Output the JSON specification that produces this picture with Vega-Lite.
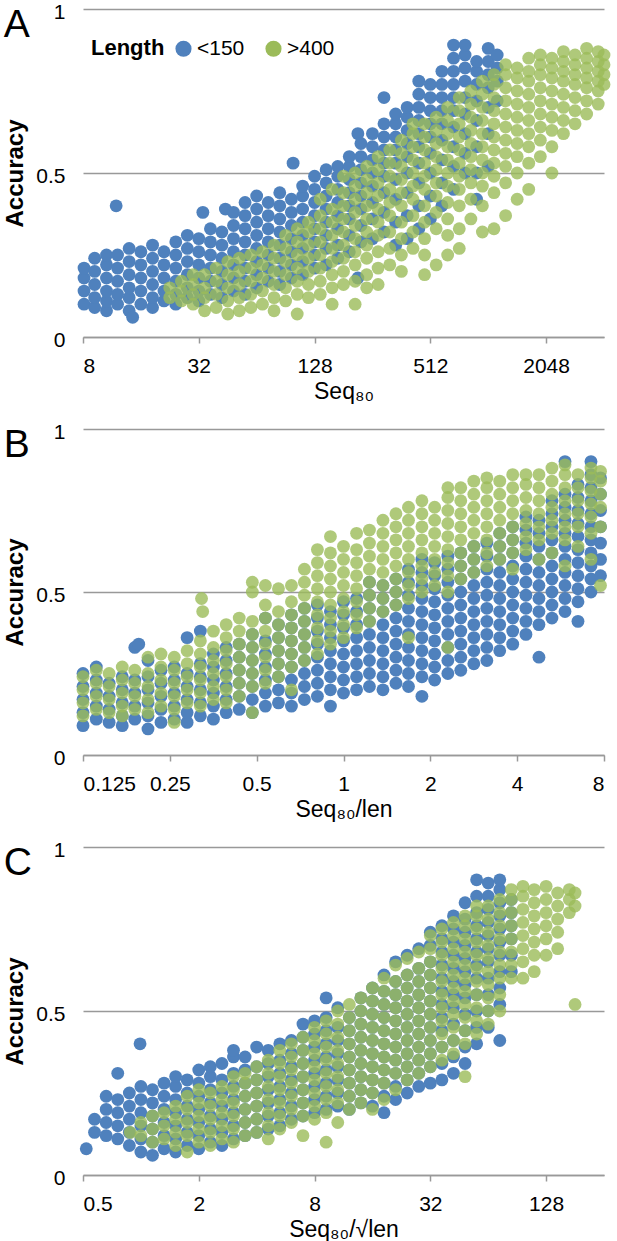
{
"$schema":"https://vega.github.io/schema/vega-lite/v6.json",
"padding":{"left":3,"top":1,"right":0,"bottom":0},
"background":"white",
"bounds":"flush",
"spacing":92,
"config":{
"font":"Liberation Sans",
"view":{"stroke":null},
"axis":{"labelFont":"Liberation Sans","labelFontSize":21,"labelColor":"#000","titleFont":"Liberation Sans","titleColor":"#000"},
"axisX":{"grid":false,"domainColor":"#999","domainWidth":1.5,"tickColor":"#999","tickWidth":1.5,"tickSize":6,"labelPadding":12,"titleFontSize":23,"titleFontWeight":"normal","titlePadding":4},
"axisY":{"domain":false,"ticks":false,"grid":true,"gridColor":"#999","gridWidth":1.5,"labelPadding":18,"labelOffset":3,"titleFontSize":24,"titleFontWeight":"bold","titlePadding":8,"zindex":1},
"title":{"anchor":"start","frame":"bounds","fontSize":39,"fontWeight":"normal","font":"Liberation Sans","color":"#000","offset":-39,"dy":5},
"legend":{"orient":"none","direction":"horizontal","titleOrient":"left","titleFontSize":22,"titleFontWeight":"bold","titleFont":"Liberation Sans","titleColor":"#000","labelFontSize":21,"labelFont":"Liberation Sans","labelColor":"#000","symbolType":"circle","symbolSize":260,"symbolStrokeWidth":0,"columnPadding":18,"titlePadding":8,"labelOffset":3,"padding":0}
},
"resolve":{"legend":{"color":"independent"}},
"datasets":{
"a1":[{"x":8.1,"y":0.10},{"x":8.1,"y":0.14},{"x":8.1,"y":0.18},{"x":8.1,"y":0.21},
{"x":9.2,"y":0.09},{"x":9.2,"y":0.12},{"x":9.2,"y":0.16},{"x":9.2,"y":0.20},{"x":9.2,"y":0.24},
{"x":10.6,"y":0.08},{"x":10.6,"y":0.11},{"x":10.6,"y":0.14},{"x":10.6,"y":0.18},{"x":10.6,"y":0.22},{"x":10.6,"y":0.25},
{"x":11.9,"y":0.40},
{"x":12.1,"y":0.10},{"x":12.1,"y":0.13},{"x":12.1,"y":0.17},{"x":12.1,"y":0.21},{"x":12.1,"y":0.25},
{"x":13.9,"y":0.08},{"x":13.9,"y":0.12},{"x":13.9,"y":0.15},{"x":13.9,"y":0.19},{"x":13.9,"y":0.23},{"x":13.9,"y":0.27},
{"x":14.5,"y":0.06},
{"x":16,"y":0.10},{"x":16,"y":0.14},{"x":16,"y":0.18},{"x":16,"y":0.22},{"x":16,"y":0.26},
{"x":18.4,"y":0.09},{"x":18.4,"y":0.12},{"x":18.4,"y":0.16},{"x":18.4,"y":0.20},{"x":18.4,"y":0.24},{"x":18.4,"y":0.28},
{"x":21.1,"y":0.11},{"x":21.1,"y":0.14},{"x":21.1,"y":0.18},{"x":21.1,"y":0.22},{"x":21.1,"y":0.26},
{"x":24.3,"y":0.10},{"x":24.3,"y":0.13},{"x":24.3,"y":0.17},{"x":24.3,"y":0.21},{"x":24.3,"y":0.25},{"x":24.3,"y":0.29},
{"x":27.9,"y":0.12},{"x":27.9,"y":0.15},{"x":27.9,"y":0.19},{"x":27.9,"y":0.23},{"x":27.9,"y":0.27},{"x":27.9,"y":0.31},
{"x":32,"y":0.11},{"x":32,"y":0.14},{"x":32,"y":0.18},{"x":32,"y":0.22},{"x":32,"y":0.26},{"x":32,"y":0.30},
{"x":33.6,"y":0.38},
{"x":36.8,"y":0.13},{"x":36.8,"y":0.17},{"x":36.8,"y":0.21},{"x":36.8,"y":0.25},{"x":36.8,"y":0.29},{"x":36.8,"y":0.33},
{"x":42.2,"y":0.12},{"x":42.2,"y":0.16},{"x":42.2,"y":0.20},{"x":42.2,"y":0.24},{"x":42.2,"y":0.28},{"x":42.2,"y":0.32},
{"x":44,"y":0.39},
{"x":48.5,"y":0.14},{"x":48.5,"y":0.18},{"x":48.5,"y":0.22},{"x":48.5,"y":0.26},{"x":48.5,"y":0.30},{"x":48.5,"y":0.34},{"x":48.5,"y":0.38},
{"x":55.7,"y":0.13},{"x":55.7,"y":0.17},{"x":55.7,"y":0.21},{"x":55.7,"y":0.25},{"x":55.7,"y":0.29},{"x":55.7,"y":0.33},{"x":55.7,"y":0.37},{"x":55.7,"y":0.41},
{"x":64,"y":0.15},{"x":64,"y":0.19},{"x":64,"y":0.23},{"x":64,"y":0.27},{"x":64,"y":0.31},{"x":64,"y":0.35},{"x":64,"y":0.39},{"x":64,"y":0.43},
{"x":73.5,"y":0.17},{"x":73.5,"y":0.21},{"x":73.5,"y":0.25},{"x":73.5,"y":0.29},{"x":73.5,"y":0.33},{"x":73.5,"y":0.37},{"x":73.5,"y":0.41},
{"x":84.4,"y":0.16},{"x":84.4,"y":0.20},{"x":84.4,"y":0.24},{"x":84.4,"y":0.28},{"x":84.4,"y":0.32},{"x":84.4,"y":0.36},{"x":84.4,"y":0.40},{"x":84.4,"y":0.44},
{"x":97,"y":0.18},{"x":97,"y":0.22},{"x":97,"y":0.26},{"x":97,"y":0.30},{"x":97,"y":0.34},{"x":97,"y":0.38},{"x":97,"y":0.42},
{"x":99,"y":0.53},
{"x":111,"y":0.19},{"x":111,"y":0.23},{"x":111,"y":0.27},{"x":111,"y":0.31},{"x":111,"y":0.35},{"x":111,"y":0.39},{"x":111,"y":0.43},{"x":111,"y":0.46},
{"x":128,"y":0.21},{"x":128,"y":0.25},{"x":128,"y":0.29},{"x":128,"y":0.33},{"x":128,"y":0.37},{"x":128,"y":0.41},{"x":128,"y":0.45},{"x":128,"y":0.49},
{"x":147,"y":0.22},{"x":147,"y":0.27},{"x":147,"y":0.31},{"x":147,"y":0.35},{"x":147,"y":0.39},{"x":147,"y":0.43},{"x":147,"y":0.47},{"x":147,"y":0.51},
{"x":169,"y":0.24},{"x":169,"y":0.28},{"x":169,"y":0.33},{"x":169,"y":0.37},{"x":169,"y":0.41},{"x":169,"y":0.45},{"x":169,"y":0.49},{"x":169,"y":0.52},
{"x":194,"y":0.26},{"x":194,"y":0.31},{"x":194,"y":0.36},{"x":194,"y":0.40},{"x":194,"y":0.44},{"x":194,"y":0.48},{"x":194,"y":0.52},{"x":194,"y":0.55},
{"x":215,"y":0.18},{"x":215,"y":0.62},
{"x":223,"y":0.29},{"x":223,"y":0.34},{"x":223,"y":0.39},{"x":223,"y":0.43},{"x":223,"y":0.47},{"x":223,"y":0.51},{"x":223,"y":0.55},{"x":223,"y":0.59},
{"x":256,"y":0.30},{"x":256,"y":0.36},{"x":256,"y":0.41},{"x":256,"y":0.46},{"x":256,"y":0.50},{"x":256,"y":0.54},{"x":256,"y":0.58},{"x":256,"y":0.62},
{"x":294,"y":0.32},{"x":294,"y":0.38},{"x":294,"y":0.44},{"x":294,"y":0.49},{"x":294,"y":0.53},{"x":294,"y":0.57},{"x":294,"y":0.61},{"x":294,"y":0.65},{"x":294,"y":0.73},
{"x":338,"y":0.28},{"x":338,"y":0.35},{"x":338,"y":0.42},{"x":338,"y":0.48},{"x":338,"y":0.53},{"x":338,"y":0.57},{"x":338,"y":0.61},{"x":338,"y":0.65},{"x":338,"y":0.68},
{"x":388,"y":0.30},{"x":388,"y":0.37},{"x":388,"y":0.44},{"x":388,"y":0.50},{"x":388,"y":0.55},{"x":388,"y":0.59},{"x":388,"y":0.63},{"x":388,"y":0.67},{"x":388,"y":0.70},
{"x":446,"y":0.33},{"x":446,"y":0.40},{"x":446,"y":0.47},{"x":446,"y":0.53},{"x":446,"y":0.58},{"x":446,"y":0.62},{"x":446,"y":0.66},{"x":446,"y":0.70},{"x":446,"y":0.74},{"x":446,"y":0.78},
{"x":512,"y":0.36},{"x":512,"y":0.43},{"x":512,"y":0.50},{"x":512,"y":0.56},{"x":512,"y":0.61},{"x":512,"y":0.65},{"x":512,"y":0.69},{"x":512,"y":0.73},{"x":512,"y":0.77},
{"x":588,"y":0.40},{"x":588,"y":0.47},{"x":588,"y":0.54},{"x":588,"y":0.60},{"x":588,"y":0.65},{"x":588,"y":0.69},{"x":588,"y":0.73},{"x":588,"y":0.77},{"x":588,"y":0.81},
{"x":676,"y":0.45},{"x":676,"y":0.52},{"x":676,"y":0.58},{"x":676,"y":0.64},{"x":676,"y":0.69},{"x":676,"y":0.73},{"x":676,"y":0.77},{"x":676,"y":0.81},{"x":676,"y":0.85},{"x":676,"y":0.89},
{"x":776,"y":0.50},{"x":776,"y":0.56},{"x":776,"y":0.62},{"x":776,"y":0.68},{"x":776,"y":0.73},{"x":776,"y":0.78},{"x":776,"y":0.82},{"x":776,"y":0.86},{"x":776,"y":0.89},
{"x":891,"y":0.42},{"x":891,"y":0.50},{"x":891,"y":0.58},{"x":891,"y":0.66},{"x":891,"y":0.72},{"x":891,"y":0.77},{"x":891,"y":0.81},{"x":891,"y":0.84},
{"x":1024,"y":0.52},{"x":1024,"y":0.62},{"x":1024,"y":0.70},{"x":1024,"y":0.76},{"x":1024,"y":0.80},{"x":1024,"y":0.84},{"x":1024,"y":0.88},
{"x":1140,"y":0.72},{"x":1140,"y":0.78},{"x":1140,"y":0.82},{"x":1140,"y":0.86}],
"a2":[{"x":22.6,"y":0.12},{"x":22.6,"y":0.15},
{"x":26,"y":0.11},{"x":26,"y":0.14},{"x":26,"y":0.17},
{"x":29.9,"y":0.10},{"x":29.9,"y":0.13},{"x":29.9,"y":0.16},{"x":29.9,"y":0.19},
{"x":34.3,"y":0.08},{"x":34.3,"y":0.12},{"x":34.3,"y":0.15},{"x":34.3,"y":0.19},
{"x":39.4,"y":0.09},{"x":39.4,"y":0.13},{"x":39.4,"y":0.17},{"x":39.4,"y":0.21},
{"x":45.3,"y":0.07},{"x":45.3,"y":0.11},{"x":45.3,"y":0.15},{"x":45.3,"y":0.19},{"x":45.3,"y":0.23},
{"x":52,"y":0.08},{"x":52,"y":0.12},{"x":52,"y":0.16},{"x":52,"y":0.20},{"x":52,"y":0.24},
{"x":59.7,"y":0.09},{"x":59.7,"y":0.13},{"x":59.7,"y":0.17},{"x":59.7,"y":0.21},{"x":59.7,"y":0.25},
{"x":68.6,"y":0.10},{"x":68.6,"y":0.14},{"x":68.6,"y":0.18},{"x":68.6,"y":0.22},{"x":68.6,"y":0.26},
{"x":78.8,"y":0.08},{"x":78.8,"y":0.12},{"x":78.8,"y":0.16},{"x":78.8,"y":0.20},{"x":78.8,"y":0.24},{"x":78.8,"y":0.28},
{"x":90.5,"y":0.11},{"x":90.5,"y":0.15},{"x":90.5,"y":0.19},{"x":90.5,"y":0.23},{"x":90.5,"y":0.27},{"x":90.5,"y":0.31},
{"x":104,"y":0.07},{"x":104,"y":0.13},{"x":104,"y":0.17},{"x":104,"y":0.21},{"x":104,"y":0.25},{"x":104,"y":0.29},{"x":104,"y":0.33},
{"x":119,"y":0.12},{"x":119,"y":0.16},{"x":119,"y":0.20},{"x":119,"y":0.24},{"x":119,"y":0.28},{"x":119,"y":0.32},{"x":119,"y":0.35},
{"x":137,"y":0.13},{"x":137,"y":0.17},{"x":137,"y":0.21},{"x":137,"y":0.25},{"x":137,"y":0.29},{"x":137,"y":0.33},{"x":137,"y":0.37},{"x":137,"y":0.42},
{"x":158,"y":0.10},{"x":158,"y":0.15},{"x":158,"y":0.19},{"x":158,"y":0.23},{"x":158,"y":0.27},{"x":158,"y":0.31},{"x":158,"y":0.35},{"x":158,"y":0.39},{"x":158,"y":0.45},
{"x":181,"y":0.16},{"x":181,"y":0.20},{"x":181,"y":0.24},{"x":181,"y":0.28},{"x":181,"y":0.32},{"x":181,"y":0.36},{"x":181,"y":0.40},{"x":181,"y":0.44},{"x":181,"y":0.49},
{"x":208,"y":0.10},{"x":208,"y":0.17},{"x":208,"y":0.22},{"x":208,"y":0.26},{"x":208,"y":0.30},{"x":208,"y":0.34},{"x":208,"y":0.38},{"x":208,"y":0.42},{"x":208,"y":0.46},{"x":208,"y":0.50},
{"x":239,"y":0.15},{"x":239,"y":0.19},{"x":239,"y":0.24},{"x":239,"y":0.28},{"x":239,"y":0.32},{"x":239,"y":0.36},{"x":239,"y":0.40},{"x":239,"y":0.44},{"x":239,"y":0.48},{"x":239,"y":0.52},
{"x":274,"y":0.16},{"x":274,"y":0.21},{"x":274,"y":0.26},{"x":274,"y":0.31},{"x":274,"y":0.35},{"x":274,"y":0.39},{"x":274,"y":0.43},{"x":274,"y":0.47},{"x":274,"y":0.51},{"x":274,"y":0.55},
{"x":315,"y":0.22},{"x":315,"y":0.27},{"x":315,"y":0.32},{"x":315,"y":0.37},{"x":315,"y":0.41},{"x":315,"y":0.45},{"x":315,"y":0.49},{"x":315,"y":0.53},{"x":315,"y":0.57},
{"x":362,"y":0.20},{"x":362,"y":0.25},{"x":362,"y":0.30},{"x":362,"y":0.35},{"x":362,"y":0.40},{"x":362,"y":0.44},{"x":362,"y":0.48},{"x":362,"y":0.52},{"x":362,"y":0.56},{"x":362,"y":0.60},
{"x":416,"y":0.27},{"x":416,"y":0.32},{"x":416,"y":0.37},{"x":416,"y":0.42},{"x":416,"y":0.46},{"x":416,"y":0.50},{"x":416,"y":0.54},{"x":416,"y":0.58},{"x":416,"y":0.62},{"x":416,"y":0.65},
{"x":478,"y":0.19},{"x":478,"y":0.25},{"x":478,"y":0.30},{"x":478,"y":0.35},{"x":478,"y":0.40},{"x":478,"y":0.45},{"x":478,"y":0.49},{"x":478,"y":0.53},{"x":478,"y":0.57},{"x":478,"y":0.61},{"x":478,"y":0.65},
{"x":549,"y":0.22},{"x":549,"y":0.33},{"x":549,"y":0.38},{"x":549,"y":0.43},{"x":549,"y":0.47},{"x":549,"y":0.51},{"x":549,"y":0.55},{"x":549,"y":0.59},{"x":549,"y":0.63},{"x":549,"y":0.67},
{"x":630,"y":0.25},{"x":630,"y":0.31},{"x":630,"y":0.36},{"x":630,"y":0.41},{"x":630,"y":0.46},{"x":630,"y":0.50},{"x":630,"y":0.54},{"x":630,"y":0.58},{"x":630,"y":0.62},{"x":630,"y":0.66},{"x":630,"y":0.70},
{"x":724,"y":0.27},{"x":724,"y":0.33},{"x":724,"y":0.40},{"x":724,"y":0.45},{"x":724,"y":0.49},{"x":724,"y":0.53},{"x":724,"y":0.57},{"x":724,"y":0.61},{"x":724,"y":0.65},{"x":724,"y":0.69},{"x":724,"y":0.73},
{"x":832,"y":0.36},{"x":832,"y":0.42},{"x":832,"y":0.47},{"x":832,"y":0.51},{"x":832,"y":0.55},{"x":832,"y":0.59},{"x":832,"y":0.63},{"x":832,"y":0.67},{"x":832,"y":0.71},{"x":832,"y":0.75},
{"x":955,"y":0.32},{"x":955,"y":0.40},{"x":955,"y":0.46},{"x":955,"y":0.50},{"x":955,"y":0.54},{"x":955,"y":0.58},{"x":955,"y":0.62},{"x":955,"y":0.66},{"x":955,"y":0.70},{"x":955,"y":0.74},{"x":955,"y":0.78},
{"x":1097,"y":0.33},{"x":1097,"y":0.44},{"x":1097,"y":0.49},{"x":1097,"y":0.53},{"x":1097,"y":0.57},{"x":1097,"y":0.61},{"x":1097,"y":0.65},{"x":1097,"y":0.69},{"x":1097,"y":0.73},{"x":1097,"y":0.77},{"x":1097,"y":0.80},
{"x":1261,"y":0.37},{"x":1261,"y":0.47},{"x":1261,"y":0.52},{"x":1261,"y":0.56},{"x":1261,"y":0.60},{"x":1261,"y":0.64},{"x":1261,"y":0.68},{"x":1261,"y":0.72},{"x":1261,"y":0.76},{"x":1261,"y":0.80},{"x":1261,"y":0.83},
{"x":1448,"y":0.42},{"x":1448,"y":0.50},{"x":1448,"y":0.55},{"x":1448,"y":0.59},{"x":1448,"y":0.63},{"x":1448,"y":0.67},{"x":1448,"y":0.71},{"x":1448,"y":0.75},{"x":1448,"y":0.79},{"x":1448,"y":0.82},
{"x":1663,"y":0.45},{"x":1663,"y":0.53},{"x":1663,"y":0.58},{"x":1663,"y":0.62},{"x":1663,"y":0.66},{"x":1663,"y":0.70},{"x":1663,"y":0.74},{"x":1663,"y":0.78},{"x":1663,"y":0.81},{"x":1663,"y":0.85},
{"x":1911,"y":0.55},{"x":1911,"y":0.60},{"x":1911,"y":0.64},{"x":1911,"y":0.68},{"x":1911,"y":0.72},{"x":1911,"y":0.76},{"x":1911,"y":0.80},{"x":1911,"y":0.83},{"x":1911,"y":0.86},
{"x":2195,"y":0.50},{"x":2195,"y":0.58},{"x":2195,"y":0.63},{"x":2195,"y":0.67},{"x":2195,"y":0.71},{"x":2195,"y":0.75},{"x":2195,"y":0.79},{"x":2195,"y":0.82},{"x":2195,"y":0.85},
{"x":2521,"y":0.62},{"x":2521,"y":0.66},{"x":2521,"y":0.70},{"x":2521,"y":0.74},{"x":2521,"y":0.78},{"x":2521,"y":0.81},{"x":2521,"y":0.84},{"x":2521,"y":0.87},
{"x":2896,"y":0.65},{"x":2896,"y":0.69},{"x":2896,"y":0.73},{"x":2896,"y":0.77},{"x":2896,"y":0.80},{"x":2896,"y":0.83},{"x":2896,"y":0.86},
{"x":3327,"y":0.68},{"x":3327,"y":0.72},{"x":3327,"y":0.76},{"x":3327,"y":0.79},{"x":3327,"y":0.82},{"x":3327,"y":0.85},{"x":3327,"y":0.88},
{"x":3822,"y":0.71},{"x":3822,"y":0.75},{"x":3822,"y":0.78},{"x":3822,"y":0.81},{"x":3822,"y":0.84},{"x":3822,"y":0.87},
{"x":4096,"y":0.77},{"x":4096,"y":0.80},{"x":4096,"y":0.83},{"x":4096,"y":0.86}],
"b1":[{"x":0.125,"y":0.09},{"x":0.125,"y":0.13},{"x":0.125,"y":0.17},{"x":0.125,"y":0.21},{"x":0.125,"y":0.25},
{"x":0.139,"y":0.11},{"x":0.139,"y":0.15},{"x":0.139,"y":0.19},{"x":0.139,"y":0.23},{"x":0.139,"y":0.27},
{"x":0.154,"y":0.10},{"x":0.154,"y":0.14},{"x":0.154,"y":0.18},{"x":0.154,"y":0.22},
{"x":0.171,"y":0.09},{"x":0.171,"y":0.12},{"x":0.171,"y":0.16},{"x":0.171,"y":0.20},{"x":0.171,"y":0.24},
{"x":0.189,"y":0.11},{"x":0.189,"y":0.15},{"x":0.189,"y":0.19},{"x":0.189,"y":0.23},{"x":0.189,"y":0.33},{"x":0.195,"y":0.34},
{"x":0.210,"y":0.08},{"x":0.210,"y":0.12},{"x":0.210,"y":0.16},{"x":0.210,"y":0.20},{"x":0.210,"y":0.24},{"x":0.210,"y":0.29},
{"x":0.233,"y":0.10},{"x":0.233,"y":0.14},{"x":0.233,"y":0.18},{"x":0.233,"y":0.22},{"x":0.233,"y":0.26},
{"x":0.259,"y":0.11},{"x":0.259,"y":0.15},{"x":0.259,"y":0.19},{"x":0.259,"y":0.23},{"x":0.259,"y":0.27},
{"x":0.287,"y":0.10},{"x":0.287,"y":0.13},{"x":0.287,"y":0.17},{"x":0.287,"y":0.21},{"x":0.287,"y":0.25},{"x":0.287,"y":0.36},
{"x":0.319,"y":0.12},{"x":0.319,"y":0.16},{"x":0.319,"y":0.20},{"x":0.319,"y":0.24},{"x":0.319,"y":0.28},{"x":0.319,"y":0.38},
{"x":0.354,"y":0.11},{"x":0.354,"y":0.15},{"x":0.354,"y":0.19},{"x":0.354,"y":0.23},{"x":0.354,"y":0.27},{"x":0.354,"y":0.31},
{"x":0.392,"y":0.13},{"x":0.392,"y":0.17},{"x":0.392,"y":0.21},{"x":0.392,"y":0.25},{"x":0.392,"y":0.29},{"x":0.392,"y":0.33},
{"x":0.435,"y":0.14},{"x":0.435,"y":0.18},{"x":0.435,"y":0.22},{"x":0.435,"y":0.26},{"x":0.435,"y":0.30},{"x":0.435,"y":0.34},
{"x":0.483,"y":0.13},{"x":0.483,"y":0.17},{"x":0.483,"y":0.21},{"x":0.483,"y":0.25},{"x":0.483,"y":0.29},{"x":0.483,"y":0.33},{"x":0.483,"y":0.37},
{"x":0.536,"y":0.15},{"x":0.536,"y":0.19},{"x":0.536,"y":0.23},{"x":0.536,"y":0.27},{"x":0.536,"y":0.31},{"x":0.536,"y":0.35},{"x":0.536,"y":0.42},
{"x":0.595,"y":0.16},{"x":0.595,"y":0.20},{"x":0.595,"y":0.24},{"x":0.595,"y":0.28},{"x":0.595,"y":0.32},{"x":0.595,"y":0.36},{"x":0.595,"y":0.40},
{"x":0.660,"y":0.15},{"x":0.660,"y":0.19},{"x":0.660,"y":0.23},{"x":0.660,"y":0.27},{"x":0.660,"y":0.31},{"x":0.660,"y":0.35},{"x":0.660,"y":0.39},{"x":0.660,"y":0.43},
{"x":0.732,"y":0.17},{"x":0.732,"y":0.21},{"x":0.732,"y":0.25},{"x":0.732,"y":0.29},{"x":0.732,"y":0.33},{"x":0.732,"y":0.37},{"x":0.732,"y":0.41},{"x":0.732,"y":0.45},
{"x":0.812,"y":0.18},{"x":0.812,"y":0.22},{"x":0.812,"y":0.26},{"x":0.812,"y":0.30},{"x":0.812,"y":0.34},{"x":0.812,"y":0.38},{"x":0.812,"y":0.42},{"x":0.812,"y":0.46},
{"x":0.901,"y":0.15},{"x":0.901,"y":0.20},{"x":0.901,"y":0.24},{"x":0.901,"y":0.28},{"x":0.901,"y":0.32},{"x":0.901,"y":0.36},{"x":0.901,"y":0.40},{"x":0.901,"y":0.44},
{"x":1.0,"y":0.19},{"x":1.0,"y":0.23},{"x":1.0,"y":0.27},{"x":1.0,"y":0.31},{"x":1.0,"y":0.35},{"x":1.0,"y":0.39},{"x":1.0,"y":0.43},{"x":1.0,"y":0.47},
{"x":1.11,"y":0.20},{"x":1.11,"y":0.24},{"x":1.11,"y":0.28},{"x":1.11,"y":0.32},{"x":1.11,"y":0.36},{"x":1.11,"y":0.40},{"x":1.11,"y":0.44},{"x":1.11,"y":0.48},
{"x":1.23,"y":0.21},{"x":1.23,"y":0.25},{"x":1.23,"y":0.29},{"x":1.23,"y":0.33},{"x":1.23,"y":0.37},{"x":1.23,"y":0.41},{"x":1.23,"y":0.45},{"x":1.23,"y":0.49},{"x":1.23,"y":0.53},
{"x":1.37,"y":0.20},{"x":1.37,"y":0.24},{"x":1.37,"y":0.28},{"x":1.37,"y":0.32},{"x":1.37,"y":0.36},{"x":1.37,"y":0.40},{"x":1.37,"y":0.44},{"x":1.37,"y":0.48},{"x":1.37,"y":0.52},
{"x":1.52,"y":0.22},{"x":1.52,"y":0.26},{"x":1.52,"y":0.30},{"x":1.52,"y":0.34},{"x":1.52,"y":0.38},{"x":1.52,"y":0.42},{"x":1.52,"y":0.46},{"x":1.52,"y":0.50},{"x":1.52,"y":0.54},
{"x":1.68,"y":0.21},{"x":1.68,"y":0.25},{"x":1.68,"y":0.29},{"x":1.68,"y":0.33},{"x":1.68,"y":0.37},{"x":1.68,"y":0.41},{"x":1.68,"y":0.45},{"x":1.68,"y":0.49},{"x":1.68,"y":0.53},{"x":1.68,"y":0.57},
{"x":1.87,"y":0.18},{"x":1.87,"y":0.24},{"x":1.87,"y":0.28},{"x":1.87,"y":0.32},{"x":1.87,"y":0.36},{"x":1.87,"y":0.40},{"x":1.87,"y":0.44},{"x":1.87,"y":0.48},{"x":1.87,"y":0.52},{"x":1.87,"y":0.56},{"x":1.87,"y":0.60},
{"x":2.07,"y":0.23},{"x":2.07,"y":0.27},{"x":2.07,"y":0.31},{"x":2.07,"y":0.35},{"x":2.07,"y":0.39},{"x":2.07,"y":0.43},{"x":2.07,"y":0.47},{"x":2.07,"y":0.51},{"x":2.07,"y":0.55},{"x":2.07,"y":0.59},
{"x":2.30,"y":0.25},{"x":2.30,"y":0.29},{"x":2.30,"y":0.33},{"x":2.30,"y":0.37},{"x":2.30,"y":0.41},{"x":2.30,"y":0.45},{"x":2.30,"y":0.49},{"x":2.30,"y":0.53},{"x":2.30,"y":0.57},{"x":2.30,"y":0.61},
{"x":2.55,"y":0.26},{"x":2.55,"y":0.30},{"x":2.55,"y":0.34},{"x":2.55,"y":0.38},{"x":2.55,"y":0.42},{"x":2.55,"y":0.46},{"x":2.55,"y":0.50},{"x":2.55,"y":0.54},{"x":2.55,"y":0.58},{"x":2.55,"y":0.62},
{"x":2.83,"y":0.28},{"x":2.83,"y":0.32},{"x":2.83,"y":0.36},{"x":2.83,"y":0.40},{"x":2.83,"y":0.44},{"x":2.83,"y":0.48},{"x":2.83,"y":0.52},{"x":2.83,"y":0.56},{"x":2.83,"y":0.60},{"x":2.83,"y":0.64},
{"x":3.14,"y":0.29},{"x":3.14,"y":0.33},{"x":3.14,"y":0.37},{"x":3.14,"y":0.41},{"x":3.14,"y":0.45},{"x":3.14,"y":0.49},{"x":3.14,"y":0.53},{"x":3.14,"y":0.57},{"x":3.14,"y":0.61},{"x":3.14,"y":0.65},
{"x":3.48,"y":0.32},{"x":3.48,"y":0.36},{"x":3.48,"y":0.40},{"x":3.48,"y":0.44},{"x":3.48,"y":0.48},{"x":3.48,"y":0.52},{"x":3.48,"y":0.56},{"x":3.48,"y":0.60},{"x":3.48,"y":0.64},{"x":3.48,"y":0.68},
{"x":3.86,"y":0.34},{"x":3.86,"y":0.38},{"x":3.86,"y":0.42},{"x":3.86,"y":0.46},{"x":3.86,"y":0.50},{"x":3.86,"y":0.54},{"x":3.86,"y":0.58},{"x":3.86,"y":0.62},{"x":3.86,"y":0.66},{"x":3.86,"y":0.70},
{"x":4.29,"y":0.37},{"x":4.29,"y":0.41},{"x":4.29,"y":0.45},{"x":4.29,"y":0.49},{"x":4.29,"y":0.53},{"x":4.29,"y":0.57},{"x":4.29,"y":0.61},{"x":4.29,"y":0.65},{"x":4.29,"y":0.69},{"x":4.29,"y":0.73},
{"x":4.76,"y":0.30},{"x":4.76,"y":0.40},{"x":4.76,"y":0.44},{"x":4.76,"y":0.48},{"x":4.76,"y":0.52},{"x":4.76,"y":0.56},{"x":4.76,"y":0.60},{"x":4.76,"y":0.64},{"x":4.76,"y":0.68},{"x":4.76,"y":0.72},
{"x":5.28,"y":0.42},{"x":5.28,"y":0.46},{"x":5.28,"y":0.50},{"x":5.28,"y":0.54},{"x":5.28,"y":0.58},{"x":5.28,"y":0.62},{"x":5.28,"y":0.66},{"x":5.28,"y":0.70},{"x":5.28,"y":0.74},{"x":5.28,"y":0.78},
{"x":5.86,"y":0.44},{"x":5.86,"y":0.48},{"x":5.86,"y":0.52},{"x":5.86,"y":0.56},{"x":5.86,"y":0.60},{"x":5.86,"y":0.64},{"x":5.86,"y":0.68},{"x":5.86,"y":0.72},{"x":5.86,"y":0.76},{"x":5.86,"y":0.80},{"x":5.86,"y":0.90},
{"x":6.50,"y":0.41},{"x":6.50,"y":0.47},{"x":6.50,"y":0.51},{"x":6.50,"y":0.55},{"x":6.50,"y":0.59},{"x":6.50,"y":0.63},{"x":6.50,"y":0.67},{"x":6.50,"y":0.71},{"x":6.50,"y":0.75},{"x":6.50,"y":0.79},{"x":6.50,"y":0.83},
{"x":7.21,"y":0.50},{"x":7.21,"y":0.54},{"x":7.21,"y":0.58},{"x":7.21,"y":0.62},{"x":7.21,"y":0.66},{"x":7.21,"y":0.70},{"x":7.21,"y":0.74},{"x":7.21,"y":0.78},{"x":7.21,"y":0.82},{"x":7.21,"y":0.86},{"x":7.21,"y":0.90},
{"x":7.78,"y":0.55},{"x":7.78,"y":0.60},{"x":7.78,"y":0.65},{"x":7.78,"y":0.70},{"x":7.78,"y":0.75},{"x":7.78,"y":0.80},{"x":7.78,"y":0.85}],
"b2":[{"x":0.125,"y":0.12},{"x":0.125,"y":0.16},{"x":0.125,"y":0.20},{"x":0.125,"y":0.24},
{"x":0.139,"y":0.14},{"x":0.139,"y":0.18},{"x":0.139,"y":0.22},{"x":0.139,"y":0.26},
{"x":0.154,"y":0.13},{"x":0.154,"y":0.17},{"x":0.154,"y":0.21},{"x":0.154,"y":0.25},
{"x":0.171,"y":0.12},{"x":0.171,"y":0.15},{"x":0.171,"y":0.19},{"x":0.171,"y":0.23},{"x":0.171,"y":0.27},
{"x":0.189,"y":0.14},{"x":0.189,"y":0.18},{"x":0.189,"y":0.22},{"x":0.189,"y":0.26},
{"x":0.210,"y":0.13},{"x":0.210,"y":0.17},{"x":0.210,"y":0.21},{"x":0.210,"y":0.25},{"x":0.210,"y":0.30},
{"x":0.233,"y":0.15},{"x":0.233,"y":0.19},{"x":0.233,"y":0.23},{"x":0.233,"y":0.27},{"x":0.233,"y":0.31},
{"x":0.259,"y":0.10},{"x":0.259,"y":0.14},{"x":0.259,"y":0.18},{"x":0.259,"y":0.22},{"x":0.259,"y":0.26},{"x":0.259,"y":0.30},
{"x":0.287,"y":0.16},{"x":0.287,"y":0.20},{"x":0.287,"y":0.24},{"x":0.287,"y":0.28},{"x":0.287,"y":0.32},
{"x":0.319,"y":0.15},{"x":0.319,"y":0.19},{"x":0.319,"y":0.23},{"x":0.319,"y":0.27},{"x":0.319,"y":0.31},{"x":0.319,"y":0.35},{"x":0.325,"y":0.44},{"x":0.322,"y":0.48},
{"x":0.354,"y":0.17},{"x":0.354,"y":0.21},{"x":0.354,"y":0.25},{"x":0.354,"y":0.29},{"x":0.354,"y":0.33},{"x":0.354,"y":0.38},
{"x":0.392,"y":0.16},{"x":0.392,"y":0.20},{"x":0.392,"y":0.24},{"x":0.392,"y":0.28},{"x":0.392,"y":0.32},{"x":0.392,"y":0.36},{"x":0.392,"y":0.40},
{"x":0.435,"y":0.18},{"x":0.435,"y":0.22},{"x":0.435,"y":0.26},{"x":0.435,"y":0.30},{"x":0.435,"y":0.34},{"x":0.435,"y":0.38},{"x":0.435,"y":0.42},
{"x":0.483,"y":0.13},{"x":0.483,"y":0.21},{"x":0.483,"y":0.25},{"x":0.483,"y":0.29},{"x":0.483,"y":0.33},{"x":0.483,"y":0.37},{"x":0.483,"y":0.41},{"x":0.483,"y":0.50},{"x":0.483,"y":0.53},
{"x":0.536,"y":0.22},{"x":0.536,"y":0.26},{"x":0.536,"y":0.30},{"x":0.536,"y":0.34},{"x":0.536,"y":0.38},{"x":0.536,"y":0.42},{"x":0.536,"y":0.46},{"x":0.536,"y":0.52},
{"x":0.595,"y":0.24},{"x":0.595,"y":0.28},{"x":0.595,"y":0.32},{"x":0.595,"y":0.36},{"x":0.595,"y":0.40},{"x":0.595,"y":0.44},{"x":0.595,"y":0.51},
{"x":0.660,"y":0.20},{"x":0.660,"y":0.27},{"x":0.660,"y":0.31},{"x":0.660,"y":0.35},{"x":0.660,"y":0.39},{"x":0.660,"y":0.43},{"x":0.660,"y":0.47},{"x":0.660,"y":0.52},
{"x":0.732,"y":0.29},{"x":0.732,"y":0.33},{"x":0.732,"y":0.37},{"x":0.732,"y":0.41},{"x":0.732,"y":0.45},{"x":0.732,"y":0.49},{"x":0.732,"y":0.53},{"x":0.732,"y":0.57},
{"x":0.812,"y":0.31},{"x":0.812,"y":0.35},{"x":0.812,"y":0.39},{"x":0.812,"y":0.43},{"x":0.812,"y":0.47},{"x":0.812,"y":0.51},{"x":0.812,"y":0.55},{"x":0.812,"y":0.59},{"x":0.812,"y":0.63},
{"x":0.901,"y":0.34},{"x":0.901,"y":0.38},{"x":0.901,"y":0.42},{"x":0.901,"y":0.46},{"x":0.901,"y":0.50},{"x":0.901,"y":0.54},{"x":0.901,"y":0.58},{"x":0.901,"y":0.62},{"x":0.901,"y":0.67},
{"x":1.0,"y":0.36},{"x":1.0,"y":0.40},{"x":1.0,"y":0.44},{"x":1.0,"y":0.48},{"x":1.0,"y":0.52},{"x":1.0,"y":0.56},{"x":1.0,"y":0.60},{"x":1.0,"y":0.64},
{"x":1.11,"y":0.39},{"x":1.11,"y":0.43},{"x":1.11,"y":0.47},{"x":1.11,"y":0.51},{"x":1.11,"y":0.55},{"x":1.11,"y":0.59},{"x":1.11,"y":0.63},{"x":1.11,"y":0.68},
{"x":1.23,"y":0.41},{"x":1.23,"y":0.45},{"x":1.23,"y":0.49},{"x":1.23,"y":0.53},{"x":1.23,"y":0.57},{"x":1.23,"y":0.61},{"x":1.23,"y":0.65},{"x":1.23,"y":0.69},
{"x":1.37,"y":0.44},{"x":1.37,"y":0.48},{"x":1.37,"y":0.52},{"x":1.37,"y":0.56},{"x":1.37,"y":0.60},{"x":1.37,"y":0.64},{"x":1.37,"y":0.68},{"x":1.37,"y":0.72},
{"x":1.52,"y":0.46},{"x":1.52,"y":0.50},{"x":1.52,"y":0.54},{"x":1.52,"y":0.58},{"x":1.52,"y":0.62},{"x":1.52,"y":0.66},{"x":1.52,"y":0.70},{"x":1.52,"y":0.74},
{"x":1.68,"y":0.36},{"x":1.68,"y":0.48},{"x":1.68,"y":0.52},{"x":1.68,"y":0.56},{"x":1.68,"y":0.60},{"x":1.68,"y":0.64},{"x":1.68,"y":0.68},{"x":1.68,"y":0.72},{"x":1.68,"y":0.76},
{"x":1.87,"y":0.50},{"x":1.87,"y":0.54},{"x":1.87,"y":0.58},{"x":1.87,"y":0.62},{"x":1.87,"y":0.66},{"x":1.87,"y":0.70},{"x":1.87,"y":0.74},{"x":1.87,"y":0.78},
{"x":2.07,"y":0.52},{"x":2.07,"y":0.56},{"x":2.07,"y":0.60},{"x":2.07,"y":0.64},{"x":2.07,"y":0.68},{"x":2.07,"y":0.72},{"x":2.07,"y":0.76},
{"x":2.30,"y":0.33},{"x":2.30,"y":0.50},{"x":2.30,"y":0.55},{"x":2.30,"y":0.59},{"x":2.30,"y":0.63},{"x":2.30,"y":0.67},{"x":2.30,"y":0.71},{"x":2.30,"y":0.75},{"x":2.30,"y":0.79},{"x":2.30,"y":0.82},
{"x":2.55,"y":0.54},{"x":2.55,"y":0.58},{"x":2.55,"y":0.62},{"x":2.55,"y":0.66},{"x":2.55,"y":0.70},{"x":2.55,"y":0.74},{"x":2.55,"y":0.78},{"x":2.55,"y":0.82},
{"x":2.83,"y":0.56},{"x":2.83,"y":0.60},{"x":2.83,"y":0.64},{"x":2.83,"y":0.68},{"x":2.83,"y":0.72},{"x":2.83,"y":0.76},{"x":2.83,"y":0.80},{"x":2.83,"y":0.84},
{"x":3.14,"y":0.58},{"x":3.14,"y":0.62},{"x":3.14,"y":0.66},{"x":3.14,"y":0.70},{"x":3.14,"y":0.74},{"x":3.14,"y":0.78},{"x":3.14,"y":0.82},{"x":3.14,"y":0.85},
{"x":3.48,"y":0.60},{"x":3.48,"y":0.64},{"x":3.48,"y":0.68},{"x":3.48,"y":0.72},{"x":3.48,"y":0.76},{"x":3.48,"y":0.80},{"x":3.48,"y":0.84},
{"x":3.86,"y":0.57},{"x":3.86,"y":0.62},{"x":3.86,"y":0.66},{"x":3.86,"y":0.70},{"x":3.86,"y":0.74},{"x":3.86,"y":0.78},{"x":3.86,"y":0.82},{"x":3.86,"y":0.86},
{"x":4.29,"y":0.63},{"x":4.29,"y":0.67},{"x":4.29,"y":0.71},{"x":4.29,"y":0.75},{"x":4.29,"y":0.79},{"x":4.29,"y":0.83},{"x":4.29,"y":0.86},
{"x":4.76,"y":0.60},{"x":4.76,"y":0.66},{"x":4.76,"y":0.70},{"x":4.76,"y":0.74},{"x":4.76,"y":0.78},{"x":4.76,"y":0.82},{"x":4.76,"y":0.86},
{"x":5.28,"y":0.62},{"x":5.28,"y":0.68},{"x":5.28,"y":0.72},{"x":5.28,"y":0.76},{"x":5.28,"y":0.80},{"x":5.28,"y":0.84},{"x":5.28,"y":0.88},
{"x":5.86,"y":0.58},{"x":5.86,"y":0.66},{"x":5.86,"y":0.70},{"x":5.86,"y":0.74},{"x":5.86,"y":0.78},{"x":5.86,"y":0.82},{"x":5.86,"y":0.86},{"x":5.86,"y":0.89},
{"x":6.50,"y":0.64},{"x":6.50,"y":0.70},{"x":6.50,"y":0.74},{"x":6.50,"y":0.78},{"x":6.50,"y":0.82},{"x":6.50,"y":0.86},
{"x":7.21,"y":0.60},{"x":7.21,"y":0.68},{"x":7.21,"y":0.73},{"x":7.21,"y":0.77},{"x":7.21,"y":0.81},{"x":7.21,"y":0.85},{"x":7.21,"y":0.88},
{"x":7.78,"y":0.52},{"x":7.78,"y":0.70},{"x":7.78,"y":0.76},{"x":7.78,"y":0.80},{"x":7.78,"y":0.84},{"x":7.78,"y":0.87}],
"c1":[{"x":0.52,"y":0.08},
{"x":0.574,"y":0.13},{"x":0.574,"y":0.17},
{"x":0.66,"y":0.12},{"x":0.66,"y":0.16},{"x":0.66,"y":0.20},{"x":0.66,"y":0.24},
{"x":0.758,"y":0.11},{"x":0.758,"y":0.15},{"x":0.758,"y":0.19},{"x":0.758,"y":0.23},{"x":0.758,"y":0.31},
{"x":0.871,"y":0.09},{"x":0.871,"y":0.13},{"x":0.871,"y":0.17},{"x":0.871,"y":0.21},{"x":0.871,"y":0.25},
{"x":1.0,"y":0.07},{"x":1.0,"y":0.11},{"x":1.0,"y":0.15},{"x":1.0,"y":0.19},{"x":1.0,"y":0.23},{"x":1.0,"y":0.27},{"x":0.99,"y":0.40},
{"x":1.149,"y":0.06},{"x":1.149,"y":0.10},{"x":1.149,"y":0.14},{"x":1.149,"y":0.18},{"x":1.149,"y":0.22},{"x":1.149,"y":0.26},
{"x":1.32,"y":0.08},{"x":1.32,"y":0.12},{"x":1.32,"y":0.16},{"x":1.32,"y":0.20},{"x":1.32,"y":0.24},{"x":1.32,"y":0.28},
{"x":1.516,"y":0.07},{"x":1.516,"y":0.11},{"x":1.516,"y":0.15},{"x":1.516,"y":0.19},{"x":1.516,"y":0.23},{"x":1.516,"y":0.27},{"x":1.516,"y":0.30},
{"x":1.741,"y":0.09},{"x":1.741,"y":0.13},{"x":1.741,"y":0.17},{"x":1.741,"y":0.21},{"x":1.741,"y":0.25},{"x":1.741,"y":0.29},
{"x":2.0,"y":0.08},{"x":2.0,"y":0.12},{"x":2.0,"y":0.16},{"x":2.0,"y":0.20},{"x":2.0,"y":0.24},{"x":2.0,"y":0.28},{"x":2.0,"y":0.32},
{"x":2.297,"y":0.10},{"x":2.297,"y":0.14},{"x":2.297,"y":0.18},{"x":2.297,"y":0.22},{"x":2.297,"y":0.26},{"x":2.297,"y":0.30},{"x":2.297,"y":0.33},
{"x":2.639,"y":0.09},{"x":2.639,"y":0.13},{"x":2.639,"y":0.17},{"x":2.639,"y":0.21},{"x":2.639,"y":0.25},{"x":2.639,"y":0.29},{"x":2.639,"y":0.34},
{"x":3.031,"y":0.11},{"x":3.031,"y":0.15},{"x":3.031,"y":0.19},{"x":3.031,"y":0.23},{"x":3.031,"y":0.27},{"x":3.031,"y":0.31},{"x":3.031,"y":0.36},{"x":3.031,"y":0.38},
{"x":3.482,"y":0.12},{"x":3.482,"y":0.16},{"x":3.482,"y":0.20},{"x":3.482,"y":0.24},{"x":3.482,"y":0.28},{"x":3.482,"y":0.32},{"x":3.482,"y":0.36},
{"x":4.0,"y":0.13},{"x":4.0,"y":0.17},{"x":4.0,"y":0.21},{"x":4.0,"y":0.25},{"x":4.0,"y":0.29},{"x":4.0,"y":0.33},{"x":4.0,"y":0.39},
{"x":4.595,"y":0.14},{"x":4.595,"y":0.18},{"x":4.595,"y":0.22},{"x":4.595,"y":0.26},{"x":4.595,"y":0.30},{"x":4.595,"y":0.34},{"x":4.595,"y":0.38},
{"x":5.278,"y":0.15},{"x":5.278,"y":0.19},{"x":5.278,"y":0.23},{"x":5.278,"y":0.27},{"x":5.278,"y":0.31},{"x":5.278,"y":0.35},{"x":5.278,"y":0.40},
{"x":6.063,"y":0.17},{"x":6.063,"y":0.21},{"x":6.063,"y":0.25},{"x":6.063,"y":0.29},{"x":6.063,"y":0.33},{"x":6.063,"y":0.37},{"x":6.063,"y":0.41},
{"x":6.964,"y":0.18},{"x":6.964,"y":0.22},{"x":6.964,"y":0.26},{"x":6.964,"y":0.30},{"x":6.964,"y":0.34},{"x":6.964,"y":0.38},{"x":6.964,"y":0.42},{"x":6.964,"y":0.46},
{"x":8.0,"y":0.19},{"x":8.0,"y":0.23},{"x":8.0,"y":0.27},{"x":8.0,"y":0.31},{"x":8.0,"y":0.35},{"x":8.0,"y":0.39},{"x":8.0,"y":0.43},{"x":8.0,"y":0.47},
{"x":9.19,"y":0.20},{"x":9.19,"y":0.24},{"x":9.19,"y":0.28},{"x":9.19,"y":0.32},{"x":9.19,"y":0.36},{"x":9.19,"y":0.40},{"x":9.19,"y":0.44},{"x":9.19,"y":0.48},{"x":9.19,"y":0.54},
{"x":10.56,"y":0.21},{"x":10.56,"y":0.25},{"x":10.56,"y":0.29},{"x":10.56,"y":0.33},{"x":10.56,"y":0.37},{"x":10.56,"y":0.41},{"x":10.56,"y":0.45},{"x":10.56,"y":0.51},
{"x":12.13,"y":0.20},{"x":12.13,"y":0.24},{"x":12.13,"y":0.28},{"x":12.13,"y":0.32},{"x":12.13,"y":0.36},{"x":12.13,"y":0.40},{"x":12.13,"y":0.44},{"x":12.13,"y":0.48},
{"x":13.93,"y":0.22},{"x":13.93,"y":0.26},{"x":13.93,"y":0.30},{"x":13.93,"y":0.34},{"x":13.93,"y":0.38},{"x":13.93,"y":0.42},{"x":13.93,"y":0.46},{"x":13.93,"y":0.50},{"x":13.93,"y":0.54},
{"x":16,"y":0.21},{"x":16,"y":0.25},{"x":16,"y":0.29},{"x":16,"y":0.33},{"x":16,"y":0.37},{"x":16,"y":0.41},{"x":16,"y":0.45},{"x":16,"y":0.49},{"x":16,"y":0.53},{"x":16,"y":0.57},
{"x":18.38,"y":0.19},{"x":18.38,"y":0.24},{"x":18.38,"y":0.28},{"x":18.38,"y":0.32},{"x":18.38,"y":0.36},{"x":18.38,"y":0.40},{"x":18.38,"y":0.44},{"x":18.38,"y":0.48},{"x":18.38,"y":0.52},{"x":18.38,"y":0.56},{"x":18.38,"y":0.61},
{"x":21.11,"y":0.23},{"x":21.11,"y":0.27},{"x":21.11,"y":0.31},{"x":21.11,"y":0.35},{"x":21.11,"y":0.39},{"x":21.11,"y":0.43},{"x":21.11,"y":0.47},{"x":21.11,"y":0.51},{"x":21.11,"y":0.55},{"x":21.11,"y":0.59},{"x":21.11,"y":0.65},
{"x":24.25,"y":0.25},{"x":24.25,"y":0.29},{"x":24.25,"y":0.33},{"x":24.25,"y":0.37},{"x":24.25,"y":0.41},{"x":24.25,"y":0.45},{"x":24.25,"y":0.49},{"x":24.25,"y":0.53},{"x":24.25,"y":0.57},{"x":24.25,"y":0.61},{"x":24.25,"y":0.67},
{"x":27.86,"y":0.27},{"x":27.86,"y":0.31},{"x":27.86,"y":0.35},{"x":27.86,"y":0.39},{"x":27.86,"y":0.43},{"x":27.86,"y":0.47},{"x":27.86,"y":0.51},{"x":27.86,"y":0.55},{"x":27.86,"y":0.59},{"x":27.86,"y":0.63},{"x":27.86,"y":0.69},
{"x":32,"y":0.28},{"x":32,"y":0.33},{"x":32,"y":0.37},{"x":32,"y":0.41},{"x":32,"y":0.45},{"x":32,"y":0.49},{"x":32,"y":0.53},{"x":32,"y":0.57},{"x":32,"y":0.61},{"x":32,"y":0.65},{"x":32,"y":0.70},{"x":32,"y":0.74},
{"x":36.76,"y":0.29},{"x":36.76,"y":0.34},{"x":36.76,"y":0.39},{"x":36.76,"y":0.44},{"x":36.76,"y":0.48},{"x":36.76,"y":0.52},{"x":36.76,"y":0.56},{"x":36.76,"y":0.60},{"x":36.76,"y":0.64},{"x":36.76,"y":0.68},{"x":36.76,"y":0.72},{"x":36.76,"y":0.76},
{"x":42.22,"y":0.31},{"x":42.22,"y":0.36},{"x":42.22,"y":0.41},{"x":42.22,"y":0.46},{"x":42.22,"y":0.51},{"x":42.22,"y":0.55},{"x":42.22,"y":0.59},{"x":42.22,"y":0.63},{"x":42.22,"y":0.67},{"x":42.22,"y":0.71},{"x":42.22,"y":0.75},{"x":42.22,"y":0.79},
{"x":48.5,"y":0.34},{"x":48.5,"y":0.39},{"x":48.5,"y":0.44},{"x":48.5,"y":0.49},{"x":48.5,"y":0.54},{"x":48.5,"y":0.58},{"x":48.5,"y":0.62},{"x":48.5,"y":0.66},{"x":48.5,"y":0.70},{"x":48.5,"y":0.74},{"x":48.5,"y":0.78},{"x":48.5,"y":0.83},
{"x":55.7,"y":0.40},{"x":55.7,"y":0.45},{"x":55.7,"y":0.50},{"x":55.7,"y":0.55},{"x":55.7,"y":0.60},{"x":55.7,"y":0.64},{"x":55.7,"y":0.68},{"x":55.7,"y":0.72},{"x":55.7,"y":0.76},{"x":55.7,"y":0.80},{"x":55.7,"y":0.85},{"x":55.7,"y":0.90},
{"x":64,"y":0.45},{"x":64,"y":0.50},{"x":64,"y":0.55},{"x":64,"y":0.60},{"x":64,"y":0.65},{"x":64,"y":0.69},{"x":64,"y":0.73},{"x":64,"y":0.77},{"x":64,"y":0.81},{"x":64,"y":0.85},{"x":64,"y":0.89},
{"x":73.5,"y":0.41},{"x":73.5,"y":0.52},{"x":73.5,"y":0.57},{"x":73.5,"y":0.62},{"x":73.5,"y":0.67},{"x":73.5,"y":0.71},{"x":73.5,"y":0.75},{"x":73.5,"y":0.79},{"x":73.5,"y":0.83},{"x":73.5,"y":0.87},{"x":73.5,"y":0.90},
{"x":84.4,"y":0.62},{"x":84.4,"y":0.67},{"x":84.4,"y":0.72},{"x":84.4,"y":0.76},{"x":84.4,"y":0.80},{"x":84.4,"y":0.84}],
"c2":[{"x":0.88,"y":0.13},
{"x":1.0,"y":0.12},{"x":1.0,"y":0.16},
{"x":1.149,"y":0.10},{"x":1.149,"y":0.14},{"x":1.149,"y":0.18},
{"x":1.32,"y":0.11},{"x":1.32,"y":0.15},{"x":1.32,"y":0.19},
{"x":1.516,"y":0.09},{"x":1.516,"y":0.13},{"x":1.516,"y":0.17},{"x":1.516,"y":0.21},
{"x":1.741,"y":0.07},{"x":1.741,"y":0.12},{"x":1.741,"y":0.16},{"x":1.741,"y":0.20},{"x":1.741,"y":0.24},
{"x":2.0,"y":0.10},{"x":2.0,"y":0.14},{"x":2.0,"y":0.18},{"x":2.0,"y":0.22},{"x":2.0,"y":0.26},
{"x":2.297,"y":0.09},{"x":2.297,"y":0.13},{"x":2.297,"y":0.17},{"x":2.297,"y":0.21},{"x":2.297,"y":0.25},
{"x":2.639,"y":0.11},{"x":2.639,"y":0.15},{"x":2.639,"y":0.19},{"x":2.639,"y":0.23},{"x":2.639,"y":0.27},
{"x":3.031,"y":0.10},{"x":3.031,"y":0.14},{"x":3.031,"y":0.18},{"x":3.031,"y":0.22},{"x":3.031,"y":0.26},{"x":3.031,"y":0.30},
{"x":3.482,"y":0.12},{"x":3.482,"y":0.16},{"x":3.482,"y":0.20},{"x":3.482,"y":0.24},{"x":3.482,"y":0.28},{"x":3.482,"y":0.31},
{"x":4.0,"y":0.13},{"x":4.0,"y":0.17},{"x":4.0,"y":0.21},{"x":4.0,"y":0.25},{"x":4.0,"y":0.29},{"x":4.0,"y":0.33},
{"x":4.595,"y":0.11},{"x":4.595,"y":0.15},{"x":4.595,"y":0.19},{"x":4.595,"y":0.23},{"x":4.595,"y":0.27},{"x":4.595,"y":0.31},{"x":4.595,"y":0.35},
{"x":5.278,"y":0.14},{"x":5.278,"y":0.18},{"x":5.278,"y":0.22},{"x":5.278,"y":0.26},{"x":5.278,"y":0.30},{"x":5.278,"y":0.34},{"x":5.278,"y":0.38},
{"x":6.063,"y":0.16},{"x":6.063,"y":0.20},{"x":6.063,"y":0.24},{"x":6.063,"y":0.28},{"x":6.063,"y":0.32},{"x":6.063,"y":0.36},{"x":6.063,"y":0.40},
{"x":6.964,"y":0.12},{"x":6.964,"y":0.18},{"x":6.964,"y":0.22},{"x":6.964,"y":0.26},{"x":6.964,"y":0.30},{"x":6.964,"y":0.34},{"x":6.964,"y":0.38},{"x":6.964,"y":0.42},
{"x":8.0,"y":0.17},{"x":8.0,"y":0.21},{"x":8.0,"y":0.25},{"x":8.0,"y":0.29},{"x":8.0,"y":0.33},{"x":8.0,"y":0.37},{"x":8.0,"y":0.41},{"x":8.0,"y":0.45},
{"x":9.19,"y":0.10},{"x":9.19,"y":0.19},{"x":9.19,"y":0.23},{"x":9.19,"y":0.27},{"x":9.19,"y":0.31},{"x":9.19,"y":0.35},{"x":9.19,"y":0.39},{"x":9.19,"y":0.43},{"x":9.19,"y":0.47},
{"x":10.56,"y":0.16},{"x":10.56,"y":0.22},{"x":10.56,"y":0.26},{"x":10.56,"y":0.30},{"x":10.56,"y":0.34},{"x":10.56,"y":0.38},{"x":10.56,"y":0.42},{"x":10.56,"y":0.46},{"x":10.56,"y":0.50},
{"x":12.13,"y":0.20},{"x":12.13,"y":0.24},{"x":12.13,"y":0.28},{"x":12.13,"y":0.32},{"x":12.13,"y":0.36},{"x":12.13,"y":0.40},{"x":12.13,"y":0.44},{"x":12.13,"y":0.48},{"x":12.13,"y":0.52},
{"x":13.93,"y":0.22},{"x":13.93,"y":0.26},{"x":13.93,"y":0.30},{"x":13.93,"y":0.34},{"x":13.93,"y":0.38},{"x":13.93,"y":0.42},{"x":13.93,"y":0.46},{"x":13.93,"y":0.50},{"x":13.93,"y":0.54},
{"x":16,"y":0.20},{"x":16,"y":0.25},{"x":16,"y":0.29},{"x":16,"y":0.33},{"x":16,"y":0.37},{"x":16,"y":0.41},{"x":16,"y":0.45},{"x":16,"y":0.49},{"x":16,"y":0.53},{"x":16,"y":0.57},
{"x":18.38,"y":0.23},{"x":18.38,"y":0.28},{"x":18.38,"y":0.32},{"x":18.38,"y":0.36},{"x":18.38,"y":0.40},{"x":18.38,"y":0.44},{"x":18.38,"y":0.48},{"x":18.38,"y":0.52},{"x":18.38,"y":0.56},{"x":18.38,"y":0.60},
{"x":21.11,"y":0.26},{"x":21.11,"y":0.31},{"x":21.11,"y":0.35},{"x":21.11,"y":0.39},{"x":21.11,"y":0.43},{"x":21.11,"y":0.47},{"x":21.11,"y":0.51},{"x":21.11,"y":0.55},{"x":21.11,"y":0.59},{"x":21.11,"y":0.64},
{"x":24.25,"y":0.29},{"x":24.25,"y":0.33},{"x":24.25,"y":0.37},{"x":24.25,"y":0.41},{"x":24.25,"y":0.45},{"x":24.25,"y":0.49},{"x":24.25,"y":0.53},{"x":24.25,"y":0.57},{"x":24.25,"y":0.61},{"x":24.25,"y":0.66},
{"x":27.86,"y":0.31},{"x":27.86,"y":0.35},{"x":27.86,"y":0.39},{"x":27.86,"y":0.43},{"x":27.86,"y":0.47},{"x":27.86,"y":0.51},{"x":27.86,"y":0.55},{"x":27.86,"y":0.59},{"x":27.86,"y":0.63},{"x":27.86,"y":0.68},
{"x":32,"y":0.33},{"x":32,"y":0.37},{"x":32,"y":0.41},{"x":32,"y":0.45},{"x":32,"y":0.49},{"x":32,"y":0.53},{"x":32,"y":0.57},{"x":32,"y":0.61},{"x":32,"y":0.65},{"x":32,"y":0.69},{"x":32,"y":0.73},
{"x":36.76,"y":0.35},{"x":36.76,"y":0.39},{"x":36.76,"y":0.43},{"x":36.76,"y":0.47},{"x":36.76,"y":0.51},{"x":36.76,"y":0.55},{"x":36.76,"y":0.59},{"x":36.76,"y":0.63},{"x":36.76,"y":0.67},{"x":36.76,"y":0.71},{"x":36.76,"y":0.75},
{"x":42.22,"y":0.37},{"x":42.22,"y":0.41},{"x":42.22,"y":0.45},{"x":42.22,"y":0.49},{"x":42.22,"y":0.53},{"x":42.22,"y":0.57},{"x":42.22,"y":0.61},{"x":42.22,"y":0.65},{"x":42.22,"y":0.69},{"x":42.22,"y":0.73},{"x":42.22,"y":0.77},
{"x":48.5,"y":0.30},{"x":48.5,"y":0.40},{"x":48.5,"y":0.44},{"x":48.5,"y":0.48},{"x":48.5,"y":0.52},{"x":48.5,"y":0.56},{"x":48.5,"y":0.60},{"x":48.5,"y":0.64},{"x":48.5,"y":0.68},{"x":48.5,"y":0.72},{"x":48.5,"y":0.76},{"x":48.5,"y":0.79},
{"x":55.7,"y":0.43},{"x":55.7,"y":0.47},{"x":55.7,"y":0.51},{"x":55.7,"y":0.55},{"x":55.7,"y":0.59},{"x":55.7,"y":0.63},{"x":55.7,"y":0.67},{"x":55.7,"y":0.71},{"x":55.7,"y":0.75},{"x":55.7,"y":0.79},{"x":55.7,"y":0.82},
{"x":64,"y":0.46},{"x":64,"y":0.50},{"x":64,"y":0.54},{"x":64,"y":0.58},{"x":64,"y":0.62},{"x":64,"y":0.66},{"x":64,"y":0.70},{"x":64,"y":0.74},{"x":64,"y":0.78},{"x":64,"y":0.82},
{"x":73.5,"y":0.50},{"x":73.5,"y":0.55},{"x":73.5,"y":0.60},{"x":73.5,"y":0.64},{"x":73.5,"y":0.68},{"x":73.5,"y":0.72},{"x":73.5,"y":0.76},{"x":73.5,"y":0.80},{"x":73.5,"y":0.84},
{"x":84.4,"y":0.60},{"x":84.4,"y":0.64},{"x":84.4,"y":0.68},{"x":84.4,"y":0.72},{"x":84.4,"y":0.76},{"x":84.4,"y":0.80},{"x":84.4,"y":0.84},{"x":84.4,"y":0.87},
{"x":97,"y":0.60},{"x":97,"y":0.65},{"x":97,"y":0.69},{"x":97,"y":0.73},{"x":97,"y":0.77},{"x":97,"y":0.81},{"x":97,"y":0.85},{"x":97,"y":0.88},
{"x":111,"y":0.62},{"x":111,"y":0.67},{"x":111,"y":0.71},{"x":111,"y":0.75},{"x":111,"y":0.79},{"x":111,"y":0.83},{"x":111,"y":0.87},
{"x":128,"y":0.67},{"x":128,"y":0.72},{"x":128,"y":0.76},{"x":128,"y":0.80},{"x":128,"y":0.84},{"x":128,"y":0.88},
{"x":147,"y":0.69},{"x":147,"y":0.74},{"x":147,"y":0.78},{"x":147,"y":0.82},{"x":147,"y":0.86},
{"x":169,"y":0.80},{"x":169,"y":0.84},{"x":169,"y":0.87},
{"x":181,"y":0.52},{"x":181,"y":0.82},{"x":181,"y":0.86}]
},
"vconcat":[
{"width":521,"height":328,
"title":{"text":"A"},
"layer":[
{"data":{"name":"a1"},"mark":{"type":"circle","size":165,"opacity":1},
"encoding":{"x":{"field":"x","type":"quantitative","scale":{"type":"log","base":2,"domain":[8,4096],"nice":false},"axis":{"values":[8,32,128,512,2048],"format":"~g","title":"Seq₈₀"}},
"y":{"field":"y","type":"quantitative","scale":{"domain":[0,1],"nice":false},"axis":{"values":[0,0.5,1],"format":"~g","title":"Accuracy"}},
"color":{"datum":"<150","type":"nominal","scale":{"domain":["<150",">400"],"range":["#4F81BD","#9BBB59"]},"legend":{"title":"Length","legendX":8,"legendY":29}}}},
{"data":{"name":"a2"},"mark":{"type":"circle","size":165,"opacity":0.8},
"encoding":{"x":{"field":"x","type":"quantitative"},"y":{"field":"y","type":"quantitative"},
"color":{"datum":">400","type":"nominal"}}}
]},
{"width":521,"height":326,
"title":{"text":"B"},
"layer":[
{"data":{"name":"b1"},"mark":{"type":"circle","size":165,"opacity":1},
"encoding":{"x":{"field":"x","type":"quantitative","scale":{"type":"log","base":2,"domain":[0.125,8],"nice":false},"axis":{"values":[0.125,0.25,0.5,1,2,4,8],"format":"~g","title":"Seq₈₀/len"}},
"y":{"field":"y","type":"quantitative","scale":{"domain":[0,1],"nice":false},"axis":{"values":[0,0.5,1],"format":"~g","title":"Accuracy"}},
"color":{"datum":"<150","type":"nominal","legend":null}}},
{"data":{"name":"b2"},"mark":{"type":"circle","size":165,"opacity":0.8},
"encoding":{"x":{"field":"x","type":"quantitative"},"y":{"field":"y","type":"quantitative"},
"color":{"datum":">400","type":"nominal","legend":null}}}
]},
{"width":521,"height":328,
"title":{"text":"C"},
"layer":[
{"data":{"name":"c1"},"mark":{"type":"circle","size":165,"opacity":1},
"encoding":{"x":{"field":"x","type":"quantitative","scale":{"type":"log","base":2,"domain":[0.5,256],"nice":false},"axis":{"values":[0.5,2,8,32,128],"format":"~g","title":"Seq₈₀/√len"}},
"y":{"field":"y","type":"quantitative","scale":{"domain":[0,1],"nice":false},"axis":{"values":[0,0.5,1],"format":"~g","title":"Accuracy"}},
"color":{"datum":"<150","type":"nominal","legend":null}}},
{"data":{"name":"c2"},"mark":{"type":"circle","size":165,"opacity":0.8},
"encoding":{"x":{"field":"x","type":"quantitative"},"y":{"field":"y","type":"quantitative"},
"color":{"datum":">400","type":"nominal","legend":null}}}
]}
]
}
